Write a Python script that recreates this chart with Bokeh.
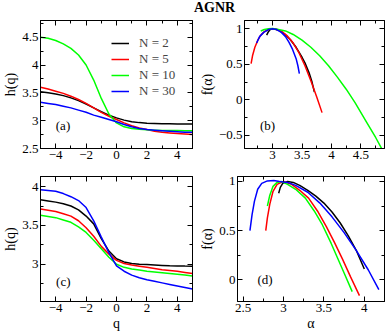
from bokeh.plotting import figure
from bokeh.models import Range1d, LinearAxis, SingleIntervalTicker, Legend, LegendItem, Label
from bokeh.layouts import column, row
from bokeh.embed import file_html
from bokeh.resources import INLINE

FONT = "Liberation Serif"
COLORS = ["black", "#ff0000", "#00ff00", "#0000ff"]
LABELS = ["N = 2", "N = 5", "N = 10", "N = 30"]

# ---- panel (a): h(q)
q = [-5, -4.5, -4, -3.5, -3, -2.5, -2, -1.5, -1, -0.5, 0, 0.5, 1, 1.5, 2, 2.5, 3, 3.5, 4, 4.5, 5]
ha_n2 = [3.52, 3.50, 3.48, 3.45, 3.41, 3.36, 3.30, 3.23, 3.16, 3.10, 3.05, 3.01, 2.98, 2.965, 2.955, 2.95, 2.945, 2.943, 2.94, 2.94, 2.94]
ha_n5 = [3.60, 3.57, 3.53, 3.49, 3.44, 3.38, 3.31, 3.23, 3.15, 3.08, 3.02, 2.96, 2.91, 2.87, 2.84, 2.81, 2.79, 2.78, 2.77, 2.76, 2.75]
ha_n10 = [4.50, 4.48, 4.44, 4.38, 4.30, 4.18, 4.00, 3.73, 3.40, 3.12, 2.96, 2.89, 2.86, 2.845, 2.835, 2.83, 2.825, 2.823, 2.822, 2.821, 2.82]
ha_n30 = [3.33, 3.31, 3.29, 3.26, 3.23, 3.19, 3.15, 3.10, 3.06, 3.02, 2.98, 2.93, 2.89, 2.86, 2.84, 2.83, 2.82, 2.81, 2.80, 2.79, 2.79]

# ---- panel (c): h(q)
hc_n2 = [3.83, 3.815, 3.80, 3.78, 3.75, 3.70, 3.62, 3.52, 3.33, 3.17, 3.07, 3.03, 3.01, 3.00, 2.995, 2.99, 2.985, 2.98, 2.978, 2.976, 2.975]
hc_n5 = [3.71, 3.695, 3.68, 3.65, 3.62, 3.56, 3.47, 3.36, 3.23, 3.13, 3.05, 3.01, 2.99, 2.975, 2.96, 2.945, 2.93, 2.92, 2.91, 2.895, 2.88]
hc_n10 = [3.63, 3.615, 3.60, 3.57, 3.54, 3.48, 3.41, 3.31, 3.20, 3.09, 3.00, 2.96, 2.94, 2.925, 2.91, 2.90, 2.89, 2.88, 2.87, 2.86, 2.85]
hc_n30 = [3.96, 3.95, 3.94, 3.91, 3.87, 3.82, 3.73, 3.56, 3.35, 3.15, 2.98, 2.91, 2.86, 2.825, 2.80, 2.78, 2.76, 2.74, 2.72, 2.70, 2.68]

# ---- panel (b): f(alpha)
ab_n2 = [2.90, 2.93, 2.96, 3.02, 3.10, 3.20, 3.30, 3.40, 3.50, 3.55, 3.62, 3.67, 3.71]
fb_n2 = [0.91, 0.96, 0.99, 1.00, 0.98, 0.93, 0.85, 0.74, 0.60, 0.52, 0.38, 0.25, 0.11]
ab_n5 = [2.636, 2.66, 2.70, 2.75, 2.80, 2.86, 2.93, 3.00, 3.08, 3.16, 3.25, 3.35, 3.45, 3.55, 3.65, 3.75, 3.84]
fb_n5 = [0.51, 0.62, 0.74, 0.84, 0.91, 0.96, 0.99, 1.00, 0.99, 0.96, 0.90, 0.80, 0.66, 0.48, 0.27, 0.04, -0.18]
ab_n10 = [2.80, 2.86, 2.93, 3.00, 3.10, 3.22, 3.35, 3.50, 3.65, 3.80, 3.95, 4.10, 4.25, 4.40, 4.60, 4.75, 4.90]
fb_n10 = [0.97, 0.99, 1.00, 1.005, 0.99, 0.97, 0.92, 0.84, 0.74, 0.62, 0.48, 0.32, 0.15, -0.04, -0.32, -0.53, -0.76]
ab_n30 = [2.73, 2.78, 2.85, 2.93, 3.00, 3.07, 3.15, 3.22, 3.28, 3.34, 3.40, 3.43, 3.455]
fb_n30 = [0.80, 0.89, 0.95, 0.99, 1.00, 0.99, 0.95, 0.89, 0.81, 0.71, 0.58, 0.48, 0.37]

# ---- panel (d): f(alpha)
ad_n2 = [2.94, 2.96, 2.99, 3.05, 3.12, 3.20, 3.30, 3.40, 3.50, 3.60, 3.70, 3.80, 3.90, 4.00]
fd_n2 = [0.88, 0.94, 0.98, 1.00, 0.99, 0.96, 0.91, 0.85, 0.78, 0.69, 0.58, 0.45, 0.30, 0.11]
ad_n5 = [2.78, 2.80, 2.83, 2.87, 2.92, 3.00, 3.10, 3.20, 3.31, 3.42, 3.53, 3.63, 3.73, 3.83, 3.94]
fd_n5 = [0.50, 0.63, 0.77, 0.90, 0.97, 1.00, 0.97, 0.91, 0.83, 0.70, 0.54, 0.38, 0.21, 0.03, -0.16]
ad_n10 = [2.80, 2.83, 2.87, 2.92, 2.97, 3.05, 3.15, 3.27, 3.38, 3.48, 3.59, 3.67, 3.75, 3.85]
fd_n10 = [0.75, 0.86, 0.95, 0.99, 1.00, 0.97, 0.92, 0.83, 0.70, 0.56, 0.37, 0.22, 0.07, -0.12]
ad_n30 = [2.584, 2.61, 2.64, 2.68, 2.73, 2.80, 2.88, 2.95, 3.05, 3.15, 3.30, 3.45, 3.60, 3.75, 3.90, 4.05, 4.18]
fd_n30 = [0.50, 0.66, 0.80, 0.92, 0.98, 1.005, 1.01, 1.00, 0.99, 0.96, 0.89, 0.78, 0.64, 0.48, 0.30, 0.10, -0.10]


def style_axis(ax, ticker, show_labels, label=None):
    ax.ticker = ticker
    ax.major_tick_in = 5
    ax.major_tick_out = 0
    ax.minor_tick_in = 3
    ax.minor_tick_out = 0
    ax.axis_line_color = "black"
    ax.major_tick_line_color = "black"
    ax.minor_tick_line_color = "black"
    ax.major_label_text_font = FONT
    if show_labels:
        ax.major_label_text_color = "black"
        ax.major_label_text_font_size = "13px"
        ax.major_label_standoff = 2
    else:
        ax.major_label_text_color = None
        ax.major_label_text_font_size = "0px"
        ax.major_label_standoff = 0
    if label:
        ax.axis_label = label
        ax.axis_label_text_font = FONT
        ax.axis_label_text_font_size = "14px"
        ax.axis_label_text_font_style = "normal"
        ax.axis_label_text_color = "black"
        ax.axis_label_standoff = 1


def make_panel(w, h, xr, yr, borders, xint, yint, xlabel, ylabel):
    bl, br, bt, bb = borders
    p = figure(width=w, height=h, x_range=Range1d(*xr), y_range=Range1d(*yr),
               x_axis_type=None, y_axis_type=None,
               output_backend="svg", toolbar_location=None,
               min_border_left=bl, min_border_right=br,
               min_border_top=bt, min_border_bottom=bb)
    p.xgrid.visible = False
    p.ygrid.visible = False
    p.outline_line_color = "black"
    p.background_fill_color = "white"
    p.border_fill_color = "white"
    for loc in ["below", "above"]:
        ax = LinearAxis()
        style_axis(ax, SingleIntervalTicker(interval=xint, num_minor_ticks=2),
                   loc == "below", xlabel if loc == "below" else None)
        p.add_layout(ax, loc)
    for loc in ["left", "right"]:
        ax = LinearAxis()
        style_axis(ax, SingleIntervalTicker(interval=yint, num_minor_ticks=2),
                   loc == "left", ylabel if loc == "left" else None)
        p.add_layout(ax, loc)
    return p


def panel_label(p, x, y, text):
    p.add_layout(Label(x=x, y=y, text=text, text_font=FONT, text_font_size="13px",
                       text_align="center", text_baseline="middle", text_color="black"))


LW = 1.5
WL, WR = 196, 190
HTITLE, HT, HB = 14, 158, 161

pa = make_panel(WL, HT, (-5, 5), (2.5, 4.8), (39, 4, 6, 24), 2, 0.5, None, "h(q)")
pb = make_panel(WR, HT, (2.524, 4.9), (-0.685, 1.117), (41, 2, 6, 24), 0.5, 0.5, None, "f(α)")
pc = make_panel(WL, HB, (-5, 5), (2.52, 4.13), (39, 4, 4, 29), 2, 0.5, "q", "h(q)")
pd = make_panel(WR, HB, (2.43, 4.25), (-0.22, 1.05), (41, 2, 4, 29), 0.5, 0.5, "α", "f(α)")

renderers = []
for ys, c in zip([ha_n2, ha_n5, ha_n10, ha_n30], COLORS):
    renderers.append(pa.line(q, ys, line_color=c, line_width=LW))
for ys, c in zip([hc_n2, hc_n5, hc_n10, hc_n30], COLORS):
    pc.line(q, ys, line_color=c, line_width=LW)
for xs, ys, c in zip([ab_n2, ab_n5, ab_n10, ab_n30], [fb_n2, fb_n5, fb_n10, fb_n30], COLORS):
    pb.line(xs, ys, line_color=c, line_width=LW)
for xs, ys, c in zip([ad_n2, ad_n5, ad_n10, ad_n30], [fd_n2, fd_n5, fd_n10, fd_n30], COLORS):
    pd.line(xs, ys, line_color=c, line_width=LW)

legend = Legend(items=[LegendItem(label=l, renderers=[r]) for l, r in zip(LABELS, renderers)],
                location=(71, 49), orientation="vertical",
                label_text_font=FONT, label_text_font_size="13px",
                label_height=12, glyph_height=12, glyph_width=18, label_standoff=10,
                spacing=0, padding=0, margin=0,
                background_fill_alpha=0, border_line_alpha=0)
pa.add_layout(legend)

panel_label(pa, -3.52, 2.91, "(a)")
panel_label(pb, 2.915, -0.365, "(b)")
panel_label(pc, -3.5, 2.78, "(c)")
panel_label(pd, 2.77, 0.0, "(d)")

# title
pt = figure(width=WL + WR, height=HTITLE, x_range=Range1d(0, WL + WR), y_range=Range1d(0, HTITLE),
            x_axis_type=None, y_axis_type=None, output_backend="svg", toolbar_location=None,
            min_border=0, min_border_left=0, min_border_right=0, min_border_top=0, min_border_bottom=0)
pt.xgrid.visible = False
pt.ygrid.visible = False
pt.outline_line_color = None
pt.add_layout(Label(x=214, y=7, text="AGNR", text_font=FONT, text_font_size="14px",
                    text_font_style="bold", text_align="center", text_baseline="middle",
                    text_color="black"))

layout = column(pt, row(pa, pb, spacing=0), row(pc, pd, spacing=0), spacing=0)

open("out.html", "w").write(file_html(layout, INLINE))
